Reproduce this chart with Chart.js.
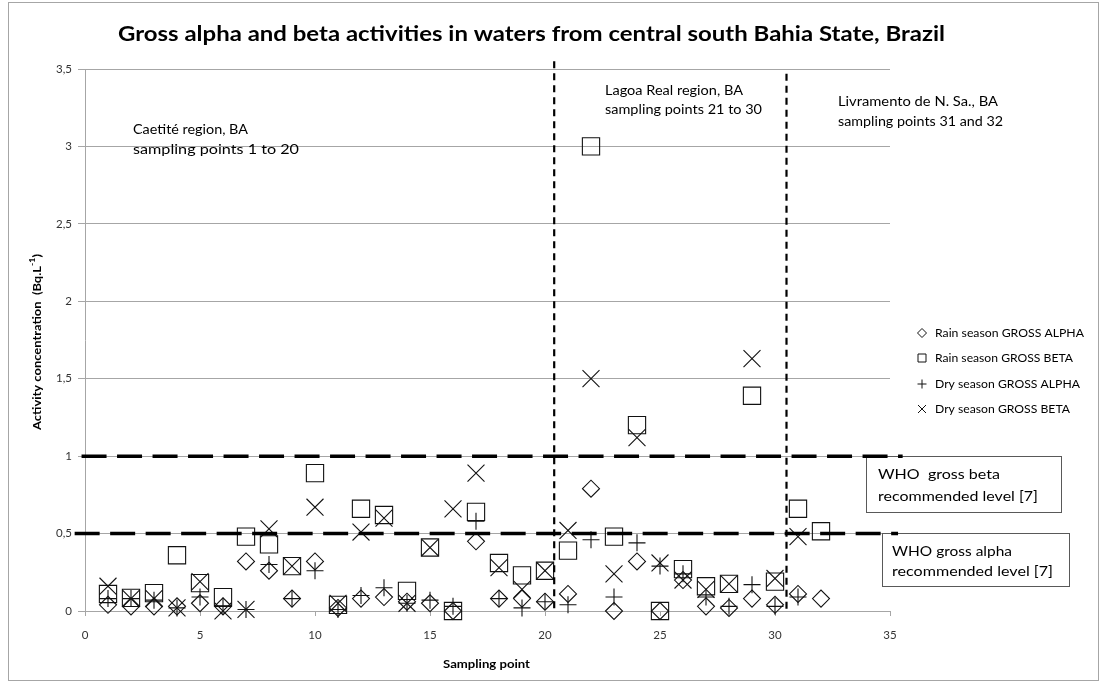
<!DOCTYPE html>
<html>
<head>
<meta charset="utf-8">
<script src="https://cdn.jsdelivr.net/npm/chart.js@4.4.0/dist/chart.umd.min.js"></script>
<style>
  html, body { margin: 0; padding: 0; background: #fff; }
  #wrap { position: relative; width: 1102px; height: 682px; }
  #frame { position: absolute; left: 8px; top: 2px; width: 1089px; height: 677px; border: 1px solid #a6a6a6; pointer-events: none; }
</style>
</head>
<body>
<div id="wrap">
  <canvas id="chart" width="1102" height="682"></canvas>
  <div id="frame"></div>
</div>
<script>
// sampling points 1..32
const points = [1, 2, 3, 4, 5, 6, 7, 8, 9, 10, 11, 12, 13, 14, 15, 16,
  17, 18, 19, 20, 21, 22, 23, 24, 25, 26, 27, 28, 29, 30, 31, 32];

// activity concentration (Bq/L)
const rainAlpha = [0.04, 0.03, 0.03, 0.03, 0.05, 0.03, 0.32, 0.26, 0.08, 0.32, 0.02, 0.08, 0.09, 0.06, 0.05, 0.00,
  0.45, 0.08, 0.08, 0.06, 0.11, 0.79, 0.00, 0.32, 0.00, 0.20, 0.03, 0.02, 0.08, 0.04, 0.11, 0.08];
const rainBeta = [0.11, 0.085, 0.115, 0.36, 0.18, 0.09, 0.48, 0.43, 0.29, 0.89, 0.04, 0.66, 0.62, 0.13, 0.41, 0.00,
  0.64, 0.31, 0.23, 0.26, 0.39, 3.00, 0.48, 1.20, 0.00, 0.27, 0.16, 0.175, 1.39, 0.19, 0.66, 0.515];
const dryAlpha = [0.08, 0.08, 0.07, 0.02, 0.09, 0.03, 0.01, 0.30, 0.08, 0.26, 0.01, 0.10, 0.15, 0.05, 0.07, 0.03,
  0.58, 0.08, 0.02, 0.06, 0.04, 0.46, 0.09, 0.44, 0.29, 0.24, 0.09, 0.03, 0.17, 0.03, 0.09, null];
const dryBeta = [0.16, 0.08, 0.08, 0.02, 0.19, 0.00, 0.01, 0.53, 0.29, 0.67, 0.05, 0.51, 0.60, 0.05, 0.41, 0.66,
  0.89, 0.28, 0.14, 0.26, 0.52, 1.50, 0.24, 1.12, 0.31, 0.20, 0.14, 0.175, 1.63, 0.21, 0.48, null];

const seriesLabels = ["Rain season GROSS ALPHA", "Rain season GROSS BETA", "Dry season GROSS ALPHA", "Dry season GROSS BETA"];

// WHO recommended levels and region limits
const whoBetaLevel = 1.0;
const whoAlphaLevel = 0.5;
const regionLimits = [20.4, 30.5];

const ink = "#111";
const font = "Lato, 'Open Sans', sans-serif";

function toXY(values) {
  return points.map((p, i) => ({ x: p, y: values[i] })).filter(d => d.y !== null);
}

function markerSet(label, values, style, radius) {
  return {
    label: label,
    data: toXY(values),
    pointStyle: style,
    pointRadius: radius,
    pointHoverRadius: radius,
    borderColor: ink,
    backgroundColor: "rgba(0,0,0,0)",
    pointBorderWidth: 1.1,
    borderWidth: 1,
    clip: false,
  };
}

function hLine(level, x0, x1) {
  return {
    type: "line",
    data: [{ x: x0, y: level }, { x: x1, y: level }],
    borderColor: "#000",
    borderWidth: 3.5,
    borderDash: [25, 10.5],
    pointRadius: 0,
    clip: false,
    order: -1,
  };
}

function vLine(pos, y0, y1) {
  return {
    type: "line",
    data: [{ x: pos, y: y0 }, { x: pos, y: y1 }],
    borderColor: "#000",
    borderWidth: 2.2,
    borderDash: [7, 5],
    pointRadius: 0,
    clip: false,
    order: -1,
  };
}

function fitText(ctx, text, x, y, width) {
  const w = ctx.measureText(text).width;
  ctx.save();
  ctx.translate(x, y);
  ctx.scale(width / w, 1);
  ctx.fillText(text, 0, 0);
  ctx.restore();
}

function legendMark(ctx, style, x, y) {
  ctx.beginPath();
  if (style === "rectRot") {
    ctx.moveTo(x - 4.5, y); ctx.lineTo(x, y - 4.5); ctx.lineTo(x + 4.5, y); ctx.lineTo(x, y + 4.5); ctx.closePath();
  } else if (style === "rect") {
    ctx.rect(x - 4, y - 4, 8, 8);
  } else if (style === "cross") {
    ctx.moveTo(x - 4.5, y); ctx.lineTo(x + 4.5, y); ctx.moveTo(x, y - 4.5); ctx.lineTo(x, y + 4.5);
  } else {
    ctx.moveTo(x - 4, y - 4); ctx.lineTo(x + 4, y + 4); ctx.moveTo(x + 4, y - 4); ctx.lineTo(x - 4, y + 4);
  }
  ctx.stroke();
}

const boxes = {
  id: "boxes",
  beforeDatasetsDraw(chart) {
    const ctx = chart.ctx;
    ctx.save();
    ctx.fillStyle = "#fff";
    ctx.strokeStyle = "#595959";
    ctx.lineWidth = 1;
    ctx.fillRect(866, 456, 195, 56);
    ctx.strokeRect(866.5, 456.5, 195, 56);
    ctx.fillRect(882, 533, 187, 53);
    ctx.strokeRect(882.5, 533.5, 187, 53);
    ctx.restore();
  },
  afterDraw(chart) {
    const ctx = chart.ctx;
    ctx.save();
    ctx.fillStyle = "#000";
    ctx.textBaseline = "middle";
    ctx.textAlign = "left";

    // title
    ctx.font = "bold 20px " + font;
    const title = "Gross alpha and beta activities in waters from central south Bahia State, Brazil";
    fitText(ctx, title, 118, 35, 827);

    // region notes
    ctx.font = "13.5px " + font;
    fitText(ctx, "Caetité region, BA", 133, 130, 115);
    fitText(ctx, "sampling points 1 to 20", 133, 150, 166);
    fitText(ctx, "Lagoa Real region, BA", 605, 91, 138);
    fitText(ctx, "sampling points 21 to 30", 605, 110, 157);
    fitText(ctx, "Livramento de N. Sa., BA", 838, 102, 160);
    fitText(ctx, "sampling points 31 and 32", 838, 122, 165);

    // WHO notes
    ctx.font = "14px " + font;
    fitText(ctx, "WHO  gross beta", 878, 474, 122);
    fitText(ctx, "recommended level [7]", 878, 496, 160);
    fitText(ctx, "WHO gross alpha", 892, 551, 120);
    fitText(ctx, "recommended level [7]", 892, 571, 161);

    // legend
    const styles = ["rectRot", "rect", "cross", "crossRot"];
    const widths = [149, 138, 145, 135];
    const rows = [333, 358, 384, 409];
    ctx.font = "12px " + font;
    ctx.strokeStyle = ink;
    ctx.lineWidth = 1;
    seriesLabels.forEach((label, i) => {
      legendMark(ctx, styles[i], 922, rows[i]);
      fitText(ctx, label, 935, rows[i], widths[i]);
    });

    // axis titles
    ctx.font = "bold 11px " + font;
    ctx.textAlign = "left";
    fitText(ctx, "Sampling point", 443, 664, 87);

    ctx.translate(37, 342);
    ctx.rotate(-Math.PI / 2);
    const main = "Activity concentration  (Bq.L";
    const sup = "-1";
    const tail = ")";
    ctx.font = "bold 11px " + font;
    const wMain = ctx.measureText(main).width;
    const wTail = ctx.measureText(tail).width;
    ctx.font = "bold 7.5px " + font;
    const wSup = ctx.measureText(sup).width;
    const total = wMain + wSup + wTail;
    const sx = 176 / total;
    ctx.scale(sx, 1);
    let x = -total / 2;
    ctx.font = "bold 11px " + font;
    ctx.fillText(main, x, 0);
    x += wMain;
    ctx.font = "bold 7.5px " + font;
    ctx.fillText(sup, x, -4);
    x += wSup;
    ctx.font = "bold 11px " + font;
    ctx.fillText(tail, x, 0);
    ctx.restore();
  },
};

const config = {
  type: "scatter",
  data: {
    datasets: [
      markerSet(seriesLabels[0], rainAlpha, "rectRot", 8.5),
      markerSet(seriesLabels[1], rainBeta, "rect", 12.2),
      markerSet(seriesLabels[2], dryAlpha, "cross", 8.5),
      markerSet(seriesLabels[3], dryBeta, "crossRot", 12),
      hLine(whoBetaLevel, -0.15, 35.55),
      hLine(whoAlphaLevel, -0.45, 35.35),
      vLine(regionLimits[0], 3.55, 0),
      vLine(regionLimits[1], 3.47, 0),
    ],
  },
  options: {
    responsive: false,
    animation: false,
    events: [],
    layout: { padding: { left: 0, top: 69, right: 212, bottom: 0 } },
    plugins: {
      legend: { display: false },
      tooltip: { enabled: false },
    },
    scales: {
      x: {
        type: "linear",
        min: 0,
        max: 35,
        afterFit: (scale) => { scale.height = 71; },
        ticks: { stepSize: 5, color: "#333", font: { family: font, size: 11.5 }, padding: 12 },
        grid: { drawOnChartArea: false, tickLength: 5, color: "#a6a6a6" },
        border: { color: "#a6a6a6" },
      },
      y: {
        min: 0,
        max: 3.5,
        afterFit: (scale) => { scale.width = 85; },
        ticks: {
          stepSize: 0.5,
          color: "#333",
          font: { family: font, size: 11.5 },
          padding: 6,
          callback: (v) => String(v).replace(".", ","),
        },
        grid: { color: "#a6a6a6", tickLength: 7 },
        border: { color: "#a6a6a6" },
      },
    },
  },
  plugins: [boxes],
};

const myChart = new Chart(document.getElementById("chart"), config);
</script>
</body>
</html>
